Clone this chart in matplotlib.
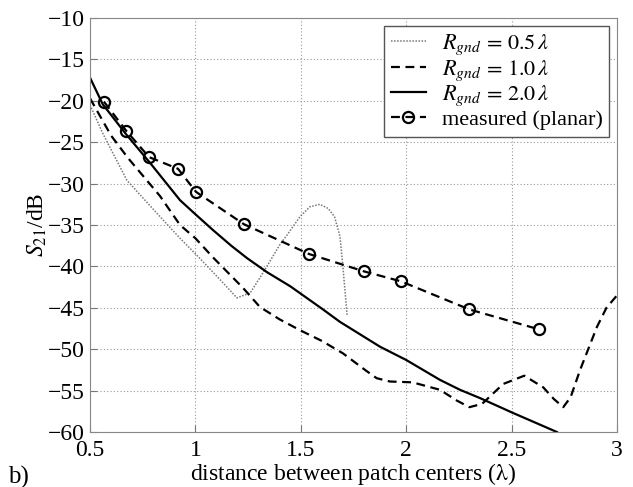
import numpy as np
import matplotlib
matplotlib.use('Agg')
import matplotlib.pyplot as plt

plt.rcParams['font.family'] = ['Liberation Serif', 'DejaVu Serif']
plt.rcParams['mathtext.fontset'] = 'stix'

# R_gnd = 0.5 lambda (dotted)
x05 = [0.5, 0.56, 0.675, 0.818, 0.927, 1.02, 1.117, 1.197, 1.26, 1.32, 1.40, 1.435,
       1.496, 1.543, 1.59, 1.63, 1.66, 1.686, 1.70, 1.72]
y05 = [-20.5, -23.9, -29.6, -33.6, -36.6, -39.0, -41.6, -43.8, -43.2, -40.8, -37.4, -36.2,
       -34.0, -32.8, -32.5, -33.0, -34.0, -36.4, -40.1, -46.0]

# R_gnd = 1.0 lambda (dashed)
x10 = [0.5, 0.6, 0.68, 0.832, 0.927, 1.0, 1.083, 1.226, 1.306, 1.4, 1.496, 1.6, 1.70, 1.81,
       1.86, 1.923, 2.03, 2.16, 2.24, 2.30, 2.36, 2.46, 2.56, 2.65, 2.70, 2.745, 2.78,
       2.825, 2.905, 2.95, 3.0]
y10 = [-19.7, -24.2, -26.9, -31.5, -35.0, -36.6, -38.9, -42.6, -44.9, -46.4, -47.7, -49.0,
       -50.5, -52.6, -53.5, -53.9, -54.0, -54.9, -56.2, -57.0, -56.6, -54.2, -53.2, -54.6,
       -56.0, -57.0, -55.8, -52.5, -47.3, -45.0, -43.5]

# R_gnd = 2.0 lambda (solid)
x20 = [0.5, 0.56, 0.67, 0.785, 0.927, 1.0, 1.083, 1.17, 1.245, 1.34, 1.45, 1.5, 1.6,
       1.686, 1.876, 2.0, 2.16, 2.255, 2.35, 2.507, 2.715]
y20 = [-17.2, -20.4, -24.0, -27.5, -32.0, -33.7, -35.6, -37.5, -39.0, -40.7, -42.4, -43.3,
       -45.1, -46.7, -49.7, -51.3, -53.7, -54.9, -55.9, -57.7, -60.0]

# measured (planar)
xm = [0.566, 0.671, 0.78, 0.917, 1.003, 1.23, 1.539, 1.80, 1.975, 2.30, 2.63]
ym = [-20.1, -23.6, -26.8, -28.2, -31.0, -34.9, -38.5, -40.6, -41.8, -45.2, -47.6]

fig = plt.figure(figsize=(6.33, 4.87), dpi=100)
ax = fig.add_axes([0.1422, 0.1129, 0.8325, 0.8501])

ax.plot(x05, y05, color='#777777', linestyle=(0, (1, 1)), linewidth=1.1,
        label=r'$R_{gnd}\,=\,0.5\,\lambda$')
ax.plot(x10, y10, color='black', linestyle=(0, (4, 2.5)), linewidth=1.6,
        label=r'$R_{gnd}\,=\,1.0\,\lambda$')
ax.plot(x20, y20, color='black', linestyle='-', linewidth=1.6,
        label=r'$R_{gnd}\,=\,2.0\,\lambda$')
ax.plot(xm, ym, color='black', linestyle=(0, (4, 2.5)), linewidth=1.6,
        marker='o', markersize=8, markerfacecolor='none', markeredgewidth=1.6,
        label='measured (planar)')

ax.set_xlim(0.5, 3)
ax.set_ylim(-60, -10)
ax.set_xticks([0.5, 1, 1.5, 2, 2.5, 3])
ax.set_xticklabels(['0.5', '1', '1.5', '2', '2.5', '3'])
ax.set_yticks(np.arange(-60, -9, 5))
ax.set_yticklabels(['\u2212%d' % abs(v) for v in np.arange(-60, -9, 5)])
ax.grid(True, linestyle=(0, (1, 2)), color='#999999', linewidth=0.8)
ax.tick_params(direction='in', length=5, labelsize=17, color='#777777')
ax.tick_params(axis='x', pad=6)
ax.tick_params(axis='y', pad=4)
for s in ax.spines.values():
    s.set_color('#888888')

ax.set_xlabel(r'distance between patch centers ($\mathrm{\lambda}$)', fontsize=17, labelpad=0)
ax.set_ylabel(r'$S_{21}$/dB', fontsize=17, labelpad=-1)

leg = ax.legend(loc='upper right', fontsize=16, frameon=True, fancybox=False,
                edgecolor='#555555', framealpha=1, handlelength=1.6, handletextpad=0.7,
                labelspacing=0.05, borderpad=0.3, borderaxespad=0.35)
leg.get_frame().set_linewidth(1.0)

fig.text(0.013, 0.008, 'b)', fontsize=18)

fig.savefig('out.png', dpi=100)
